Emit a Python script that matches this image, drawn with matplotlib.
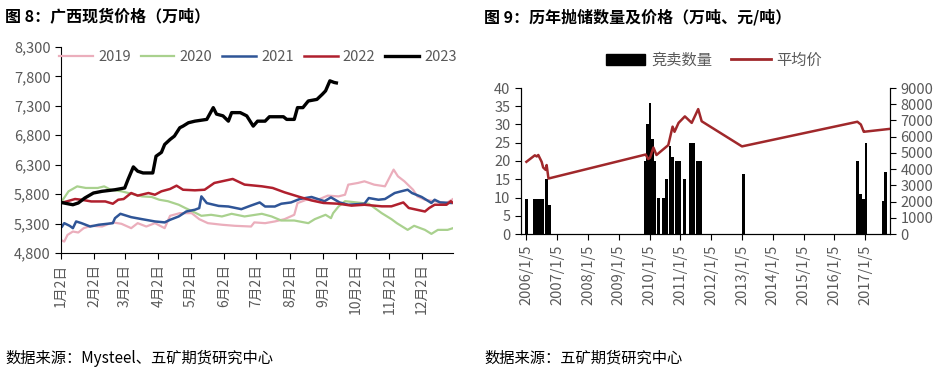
import matplotlib
matplotlib.use("Agg")
import matplotlib.pyplot as plt
import matplotlib.ticker as mticker
from matplotlib.patches import Patch
from matplotlib.lines import Line2D
import pandas as pd

plt.rcParams['font.family'] = ['Noto Sans CJK SC', 'DejaVu Sans']

# ---- 图8: 广西现货价格, x = day of year ----
d2019 = [2, 5, 8, 13, 18, 23, 30, 40, 50, 58, 67, 73, 81, 89, 98, 103, 112, 123, 130, 138, 151, 163,
         178, 181, 191, 200, 209, 218, 221, 231, 240, 249, 259, 265, 268, 277, 283, 292, 302, 306,
         310, 314, 320, 328, 332, 339, 348, 359, 365]
v2019 = [5022, 4994, 5107, 5165, 5148, 5222, 5262, 5250, 5320, 5296, 5222, 5307, 5250, 5307, 5222,
         5432, 5477, 5477, 5375, 5307, 5280, 5262, 5250, 5320, 5307, 5336, 5375, 5449, 5648, 5717,
         5705, 5775, 5762, 5790, 5961, 5990, 6018, 5961, 5933, 6075, 6217, 6103, 6018, 5875, 5762,
         5705, 5680, 5650, 5717]
d2020 = [2, 9, 17, 25, 36, 42, 48, 58, 67, 77, 86, 93, 101, 111, 117, 124, 132, 141, 151, 160, 172,
         188, 197, 206, 218, 231, 237, 247, 252, 254, 259, 265, 287, 299, 308, 313, 323, 329, 339,
         345, 351, 360, 365]
v2020 = [5659, 5848, 5932, 5905, 5905, 5932, 5875, 5848, 5808, 5762, 5752, 5705, 5680, 5620, 5565,
         5505, 5432, 5449, 5421, 5466, 5421, 5466, 5421, 5352, 5352, 5307, 5375, 5449, 5392, 5477,
         5590, 5680, 5637, 5477, 5375, 5307, 5193, 5262, 5193, 5125, 5193, 5193, 5222]
d2021 = [3, 5, 10, 13, 16, 21, 29, 37, 50, 52, 57, 67, 77, 89, 98, 103, 111, 118, 126, 130, 132, 137,
         148, 157, 169, 177, 186, 191, 200, 206, 215, 223, 234, 246, 252, 260, 268, 283, 287, 296,
         302, 311, 317, 323, 327, 336, 345, 348, 353, 363]
v2021 = [5250, 5307, 5262, 5222, 5336, 5307, 5250, 5280, 5307, 5392, 5466, 5409, 5375, 5336, 5320,
         5364, 5421, 5505, 5535, 5563, 5762, 5648, 5600, 5590, 5545, 5600, 5659, 5590, 5590, 5637,
         5659, 5717, 5752, 5680, 5745, 5659, 5620, 5637, 5734, 5705, 5717, 5819, 5848, 5875, 5819,
         5752, 5650, 5705, 5659, 5650]
d2022 = [2, 8, 15, 21, 30, 43, 50, 55, 60, 67, 73, 83, 89, 95, 103, 109, 115, 126, 135, 144, 161, 172,
         188, 198, 209, 223, 234, 245, 259, 271, 283, 299, 308, 319, 324, 339, 343, 348, 359, 363, 365]
v2022 = [5650, 5680, 5717, 5705, 5676, 5676, 5637, 5705, 5717, 5819, 5775, 5819, 5790, 5848, 5888,
         5944, 5875, 5865, 5875, 5990, 6058, 5962, 5933, 5905, 5831, 5752, 5693, 5650, 5637, 5605,
         5620, 5593, 5593, 5659, 5565, 5505, 5565, 5620, 5620, 5680, 5650]
d2023 = [2, 13, 18, 24, 32, 40, 52, 61, 64, 69, 73, 78, 87, 90, 95, 98, 103, 107, 112, 115, 120, 126,
         137, 143, 146, 152, 157, 160, 168, 174, 180, 184, 191, 195, 208, 211, 218, 221, 226, 231,
         239, 244, 247, 251, 255, 257]
v2023 = [5659, 5620, 5650, 5734, 5819, 5848, 5875, 5905, 6046, 6263, 6190, 6160, 6160, 6444, 6510,
         6644, 6729, 6786, 6928, 6956, 7013, 7040, 7070, 7270, 7160, 7130, 7040, 7185, 7185, 7130,
         6956, 7040, 7040, 7115, 7115, 7070, 7070, 7270, 7270, 7383, 7410, 7497, 7555, 7725, 7697,
         7690]
month_days = [2, 33, 61, 92, 122, 153, 183, 214, 245, 275, 306, 336]
month_labels = ["1月2日", "2月2日", "3月2日", "4月2日", "5月2日", "6月2日",
                "7月2日", "8月2日", "9月2日", "10月2日", "11月2日", "12月2日"]

# ---- 图9: 历年抛储数量及价格 ----
bar_dates = ["2006-01-05", "2006-04-05", "2006-05-01", "2006-05-27", "2006-06-22", "2006-07-18",
             "2006-09-05", "2006-10-10",
             "2009-11-20", "2009-12-15", "2010-01-10", "2010-02-05", "2010-03-01",
             "2010-04-20", "2010-06-20", "2010-07-25", "2010-09-05", "2010-10-05",
             "2010-11-20", "2010-12-25", "2011-02-25", "2011-05-10", "2011-06-10",
             "2011-07-25", "2011-09-01", "2013-01-20",
             "2016-10-10", "2016-11-10", "2016-12-20", "2017-01-15", "2017-08-15", "2017-08-30"]
bar_qty = [9.5, 9.5, 9.5, 9.5, 9.5, 9.5, 15, 8,
           20, 30, 36, 26, 20,
           10, 10, 15, 24, 21,
           20, 20, 15, 25, 25,
           20, 20, 16.5,
           20, 11, 9.5, 25, 9, 17]
price_dates = ["2006-01-05", "2006-04-15", "2006-05-08", "2006-05-26", "2006-07-05", "2006-07-23",
               "2006-08-22", "2006-09-02", "2006-09-24", "2009-11-20", "2009-12-20", "2010-01-10",
               "2010-02-20", "2010-03-28", "2010-08-15", "2010-10-05", "2010-10-28", "2010-12-15",
               "2011-02-28", "2011-05-20", "2011-08-05", "2011-09-15", "2013-01-05", "2016-10-05",
               "2016-11-15", "2016-12-20", "2017-01-05", "2017-10-25"]
price_avg = [4450, 4850, 4780, 4870, 4450, 4100, 3950, 4250, 3420, 4900, 4620, 4700,
             5330, 4870, 5480, 6620, 6300, 6850, 7250, 6850, 7700, 6950, 5400, 6920,
             6750, 6300, 6310, 6480]

grey = '#595959'
fig = plt.figure(figsize=(9.5, 3.77), dpi=100)

# left chart
ax = fig.add_axes([61 / 950, 1 - 253 / 377, 392 / 950, 206 / 377])
series = [(d2019, v2019, '#EBAEBC', '2019', 1.6),
          (d2020, v2020, '#A9D18E', '2020', 1.6),
          (d2021, v2021, '#2F5597', '2021', 1.8),
          (d2022, v2022, '#B0202E', '2022', 1.8),
          (d2023, v2023, '#000000', '2023', 2.4)]
for d, v, c, lab, lw in series:
    ax.plot(d, v, color=c, lw=lw, label=lab)
ax.set_xlim(2, 365)
ax.set_ylim(4800, 8300)
ax.set_yticks(range(4800, 8301, 500))
ax.yaxis.set_major_formatter(mticker.StrMethodFormatter('{x:,.0f}'))
ax.set_xticks(month_days)
ax.set_xticklabels(month_labels, rotation=90)
for s in ['top', 'right']:
    ax.spines[s].set_visible(False)
ax.tick_params(direction='out', length=4, colors='black', labelcolor=grey, labelsize=10.5)
ax.tick_params(axis='x', labelsize=10)
ax.legend(loc='center', bbox_to_anchor=(258 / 950, 1 - 57 / 377), bbox_transform=fig.transFigure,
          ncol=5, frameon=False, fontsize=10.5, handlelength=2.3, handletextpad=0.35,
          columnspacing=0.7, labelcolor=grey)

fig.text(5 / 950, 1 - 17 / 377, "图 8：广西现货价格（万吨）", fontsize=11.5, fontweight='bold',
         va='center', ha='left')
fig.text(5 / 950, 1 - 358 / 377, "数据来源：Mysteel、五矿期货研究中心", fontsize=11,
         va='center', ha='left')

# right chart
ax2 = fig.add_axes([521 / 950, 1 - 234 / 377, 369 / 950, 146 / 377])
bd = pd.to_datetime(bar_dates)
ax2.bar(bd, bar_qty, width=33, color='black', align='center')
ax2.set_ylim(0, 40)
ax2.set_yticks(range(0, 41, 5))
ax2.set_xlim(pd.Timestamp("2005-11-02"), pd.Timestamp("2017-10-27"))
year_ticks = [pd.Timestamp(f"{y}-01-05") for y in range(2006, 2018)]
ax2.set_xticks(year_ticks)
ax2.set_xticklabels([f"{y}/1/5" for y in range(2006, 2018)], rotation=90)
ax2.spines['top'].set_visible(False)
ax2.tick_params(direction='out', length=4, colors='black', labelcolor=grey, labelsize=10.5)

ax3 = ax2.twinx()
ax3.plot(pd.to_datetime(price_dates), price_avg, color='#A0282B', lw=1.8)
ax3.set_ylim(0, 9000)
ax3.set_yticks(range(0, 9001, 1000))
ax3.spines['top'].set_visible(False)
ax3.tick_params(direction='out', length=4, colors='black', labelcolor=grey, labelsize=10.5)

handles = [Patch(facecolor='black', edgecolor='black'),
           Line2D([], [], color='#A0282B', lw=2)]
fig.legend(handles, ["竞卖数量", "平均价"], loc='center',
           bbox_to_anchor=(714 / 950, 1 - 60 / 377), ncol=2, frameon=False, fontsize=11,
           handlelength=2.6, handletextpad=0.4, columnspacing=1.2, labelcolor=grey)

fig.text(484 / 950, 1 - 17 / 377, "图 9：历年抛储数量及价格（万吨、元/吨）", fontsize=11.5,
         fontweight='bold', va='center', ha='left')
fig.text(484 / 950, 1 - 358 / 377, "数据来源：五矿期货研究中心", fontsize=11,
         va='center', ha='left')

fig.savefig("out.png", dpi=100)
